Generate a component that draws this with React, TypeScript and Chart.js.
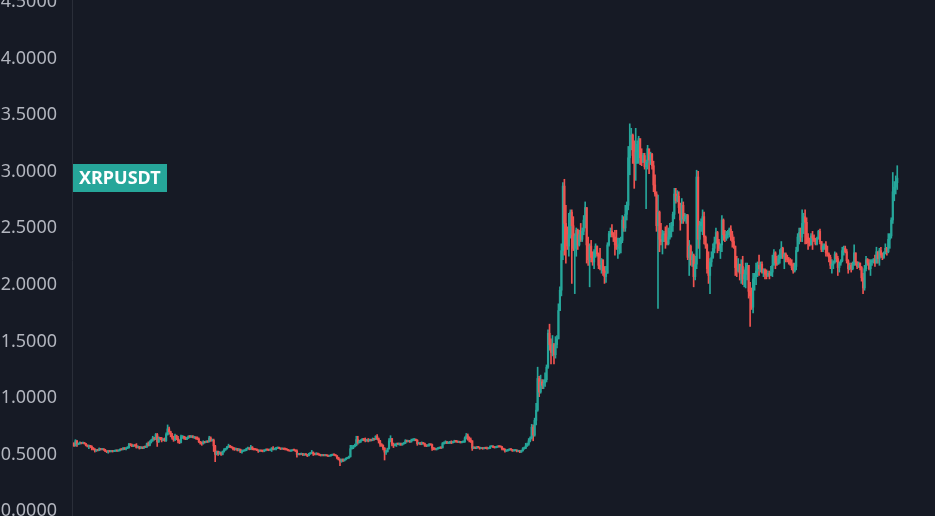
import React, { useEffect, useRef } from 'react';
import { Chart, registerables } from 'chart.js';

Chart.register(...registerables);

// ---- data (daily candles, first = 2024-01-08, last = 2025-07-15) ----
const SYMBOL = 'XRPUSDT';
const FIRST_OPEN = 0.578;

const closes: number[] = [
  // 2024 Jan (from 8th)
  0.555, 0.600, 0.570, 0.575, 0.582, 0.578, 0.583, 0.575, 0.560, 0.552, 0.558, 0.548, 0.535, 0.527, 0.512, 0.518, 0.516, 0.530, 0.523, 0.527, 0.520, 0.507, 0.503, 0.510,
  // Feb
  0.505, 0.510, 0.506, 0.510, 0.514, 0.510, 0.515, 0.525, 0.522, 0.535, 0.528, 0.535, 0.540, 0.570, 0.563, 0.553, 0.560, 0.557, 0.540, 0.548, 0.535, 0.540, 0.537, 0.548, 0.545, 0.575, 0.560, 0.590, 0.605,
  // Mar
  0.625, 0.615, 0.655, 0.590, 0.625, 0.620, 0.605, 0.615, 0.600, 0.655, 0.705, 0.680, 0.655, 0.630, 0.610, 0.645, 0.620, 0.600, 0.585, 0.635, 0.640, 0.625, 0.615, 0.625, 0.640, 0.635, 0.640, 0.630, 0.632, 0.620, 0.615,
  // Apr
  0.590, 0.580, 0.575, 0.590, 0.585, 0.595, 0.590, 0.625, 0.600, 0.605, 0.555, 0.480, 0.505, 0.485, 0.495, 0.480, 0.505, 0.520, 0.530, 0.545, 0.555, 0.548, 0.540, 0.530, 0.525, 0.530, 0.515, 0.525, 0.500, 0.510,
  // May
  0.513, 0.515, 0.530, 0.535, 0.527, 0.545, 0.528, 0.525, 0.522, 0.519, 0.510, 0.513, 0.511, 0.510, 0.515, 0.522, 0.520, 0.518, 0.520, 0.535, 0.525, 0.530, 0.535, 0.540, 0.535, 0.527, 0.530, 0.528, 0.527, 0.522, 0.515,
  // Jun
  0.510, 0.512, 0.520, 0.518, 0.510, 0.480, 0.485, 0.480, 0.487, 0.474, 0.482, 0.478, 0.468, 0.485, 0.490, 0.500, 0.485, 0.480, 0.490, 0.480, 0.476, 0.470, 0.473, 0.470, 0.472, 0.469, 0.465, 0.468, 0.473, 0.478,
  // Jul
  0.475, 0.468, 0.450, 0.435, 0.420, 0.435, 0.425, 0.435, 0.445, 0.450, 0.460, 0.530, 0.540, 0.550, 0.560, 0.610, 0.585, 0.595, 0.605, 0.615, 0.610, 0.600, 0.605, 0.598, 0.608, 0.605, 0.615, 0.613, 0.640, 0.618, 0.600,
  // Aug
  0.570, 0.560, 0.535, 0.500, 0.505, 0.530, 0.600, 0.620, 0.570, 0.560, 0.565, 0.575, 0.570, 0.575, 0.565, 0.574, 0.580, 0.600, 0.594, 0.598, 0.590, 0.605, 0.610, 0.614, 0.605, 0.575, 0.580, 0.570, 0.580, 0.576, 0.560,
  // Sep
  0.555, 0.560, 0.570, 0.565, 0.535, 0.530, 0.525, 0.530, 0.535, 0.540, 0.538, 0.575, 0.580, 0.590, 0.580, 0.585, 0.590, 0.582, 0.590, 0.600, 0.593, 0.588, 0.590, 0.585, 0.590, 0.592, 0.625, 0.645, 0.620, 0.605,
  // Oct
  0.600, 0.535, 0.540, 0.535, 0.545, 0.542, 0.533, 0.535, 0.530, 0.537, 0.535, 0.530, 0.535, 0.548, 0.552, 0.545, 0.540, 0.545, 0.550, 0.548, 0.547, 0.530, 0.525, 0.510, 0.515, 0.518, 0.525, 0.522, 0.512, 0.515, 0.518,
  // Nov
  0.508, 0.510, 0.500, 0.512, 0.530, 0.535, 0.555, 0.570, 0.600, 0.625, 0.720, 0.650, 0.780, 0.870, 1.15, 1.03, 1.12, 1.09, 1.11, 1.14, 1.25, 1.55, 1.45, 1.38, 1.45, 1.36, 1.45, 1.50, 1.75, 1.93,
  // Dec
  2.28, 2.85, 2.52, 2.38, 2.32, 2.42, 2.62, 2.50, 2.30, 2.41, 2.46, 2.33, 2.42, 2.38, 2.45, 2.55, 2.66, 2.33, 2.20, 2.32, 2.22, 2.18, 2.27, 2.32, 2.25, 2.15, 2.12, 2.20, 2.10, 2.05, 2.08,
  // 2025 Jan
  2.33, 2.43, 2.45, 2.42, 2.40, 2.33, 2.30, 2.31, 2.34, 2.37, 2.55, 2.48, 2.60, 2.68, 3.10, 3.20, 3.30, 3.12, 3.05, 3.15, 3.22, 3.27, 3.10, 3.06, 3.12, 3.02, 3.06, 3.18, 3.08, 3.13, 3.03,
  // Feb
  2.86, 2.78, 2.50, 2.62, 2.38, 2.36, 2.42, 2.43, 2.36, 2.34, 2.40, 2.45, 2.50, 2.60, 2.78, 2.72, 2.76, 2.66, 2.55, 2.68, 2.56, 2.58, 2.59, 2.22, 2.32, 2.20, 2.24, 2.05,
  // Mar
  2.16, 2.93, 2.38, 2.50, 2.53, 2.58, 2.40, 2.33, 2.12, 2.06, 2.18, 2.22, 2.30, 2.35, 2.44, 2.35, 2.30, 2.33, 2.55, 2.42, 2.39, 2.42, 2.44, 2.47, 2.42, 2.36, 2.32, 2.13, 2.10, 2.16, 2.08,
  // Apr
  2.14, 2.03, 2.07, 2.13, 2.15, 1.92, 1.88, 1.78, 2.03, 2.05, 2.10, 2.15, 2.12, 2.16, 2.09, 2.11, 2.07, 2.06, 2.08, 2.06, 2.09, 2.15, 2.26, 2.17, 2.16, 2.21, 2.25, 2.30, 2.23, 2.25,
  // May
  2.21, 2.20, 2.18, 2.16, 2.13, 2.10, 2.14, 2.28, 2.40, 2.44, 2.40, 2.52, 2.58, 2.53, 2.40, 2.35, 2.33, 2.41, 2.39, 2.37, 2.34, 2.39, 2.45, 2.36, 2.29, 2.32, 2.33, 2.26, 2.25, 2.22, 2.15,
  // Jun
  2.16, 2.18, 2.25, 2.21, 2.13, 2.17, 2.19, 2.28, 2.30, 2.27, 2.19, 2.12, 2.15, 2.12, 2.16, 2.26, 2.18, 2.14, 2.17, 2.13, 2.04, 1.95, 2.12, 2.20, 2.17, 2.12, 2.18, 2.19, 2.20, 2.17,
  // Jul (to 15th)
  2.27, 2.21, 2.28, 2.24, 2.22, 2.26, 2.30, 2.27, 2.38, 2.41, 2.55, 2.80, 2.84, 2.88, 2.92,
];

const highs: number[] = [
  0.585, 0.610, 0.602, 0.580, 0.590, 0.585, 0.588, 0.585, 0.578, 0.565, 0.562, 0.560, 0.555, 0.540, 0.530, 0.522, 0.522, 0.537, 0.532, 0.532, 0.530, 0.525, 0.510, 0.515,
  0.515, 0.514, 0.512, 0.515, 0.518, 0.518, 0.520, 0.528, 0.530, 0.540, 0.540, 0.540, 0.548, 0.578, 0.575, 0.570, 0.565, 0.565, 0.575, 0.555, 0.550, 0.548, 0.545, 0.552, 0.552, 0.580, 0.590, 0.600, 0.612,
  0.640, 0.630, 0.665, 0.665, 0.635, 0.630, 0.630, 0.620, 0.625, 0.670, 0.740, 0.720, 0.685, 0.665, 0.640, 0.660, 0.650, 0.640, 0.610, 0.650, 0.645, 0.640, 0.635, 0.630, 0.645, 0.645, 0.645, 0.645, 0.640, 0.635, 0.635,
  0.625, 0.595, 0.590, 0.600, 0.595, 0.600, 0.600, 0.640, 0.635, 0.615, 0.615, 0.560, 0.510, 0.510, 0.505, 0.500, 0.510, 0.530, 0.535, 0.550, 0.570, 0.560, 0.552, 0.545, 0.540, 0.535, 0.532, 0.530, 0.527, 0.518,
  0.518, 0.520, 0.535, 0.545, 0.540, 0.560, 0.548, 0.530, 0.530, 0.525, 0.520, 0.518, 0.516, 0.515, 0.520, 0.528, 0.525, 0.524, 0.525, 0.540, 0.548, 0.535, 0.542, 0.545, 0.542, 0.537, 0.535, 0.533, 0.532, 0.530, 0.525,
  0.518, 0.517, 0.522, 0.523, 0.520, 0.520, 0.490, 0.490, 0.492, 0.490, 0.486, 0.485, 0.480, 0.490, 0.495, 0.515, 0.500, 0.488, 0.495, 0.492, 0.483, 0.480, 0.477, 0.476, 0.476, 0.475, 0.472, 0.472, 0.477, 0.482,
  0.483, 0.478, 0.470, 0.455, 0.440, 0.440, 0.440, 0.440, 0.450, 0.455, 0.465, 0.560, 0.560, 0.560, 0.570, 0.640, 0.640, 0.605, 0.610, 0.620, 0.620, 0.625, 0.612, 0.620, 0.615, 0.612, 0.625, 0.620, 0.645, 0.655, 0.625,
  0.605, 0.575, 0.565, 0.540, 0.515, 0.535, 0.620, 0.645, 0.620, 0.580, 0.572, 0.580, 0.580, 0.580, 0.580, 0.580, 0.585, 0.610, 0.607, 0.605, 0.605, 0.615, 0.617, 0.620, 0.615, 0.610, 0.585, 0.585, 0.590, 0.585, 0.580,
  0.565, 0.565, 0.575, 0.572, 0.570, 0.540, 0.535, 0.535, 0.540, 0.545, 0.545, 0.585, 0.590, 0.600, 0.595, 0.590, 0.595, 0.600, 0.595, 0.605, 0.605, 0.600, 0.595, 0.595, 0.595, 0.597, 0.635, 0.665, 0.660, 0.635,
  0.625, 0.600, 0.548, 0.545, 0.550, 0.550, 0.545, 0.540, 0.540, 0.542, 0.542, 0.545, 0.540, 0.555, 0.556, 0.556, 0.550, 0.550, 0.555, 0.553, 0.552, 0.550, 0.535, 0.528, 0.520, 0.522, 0.530, 0.528, 0.525, 0.520, 0.522,
  0.520, 0.515, 0.515, 0.517, 0.540, 0.545, 0.578, 0.580, 0.620, 0.635, 0.745, 0.740, 0.800, 0.930, 1.25, 1.17, 1.18, 1.14, 1.14, 1.20, 1.27, 1.58, 1.63, 1.50, 1.53, 1.46, 1.52, 1.53, 1.81, 1.96,
  2.34, 2.88, 2.91, 2.68, 2.49, 2.61, 2.64, 2.64, 2.58, 2.43, 2.48, 2.47, 2.46, 2.52, 2.48, 2.59, 2.71, 2.66, 2.40, 2.34, 2.37, 2.27, 2.29, 2.34, 2.32, 2.26, 2.30, 2.21, 2.18, 2.14, 2.14,
  2.35, 2.45, 2.48, 2.51, 2.44, 2.46, 2.46, 2.39, 2.39, 2.40, 2.59, 2.58, 2.68, 2.71, 3.20, 3.40, 3.36, 3.31, 3.25, 3.36, 3.25, 3.29, 3.20, 3.18, 3.14, 3.14, 3.08, 3.21, 3.14, 3.15, 3.14,
  3.07, 2.95, 2.80, 2.77, 2.63, 2.52, 2.46, 2.45, 2.49, 2.50, 2.48, 2.52, 2.53, 2.62, 2.83, 2.83, 2.81, 2.80, 2.70, 2.74, 2.71, 2.61, 2.60, 2.60, 2.37, 2.33, 2.27, 2.25,
  2.23, 2.99, 2.98, 2.54, 2.56, 2.64, 2.62, 2.41, 2.34, 2.27, 2.21, 2.27, 2.34, 2.40, 2.48, 2.45, 2.38, 2.34, 2.59, 2.56, 2.46, 2.45, 2.46, 2.48, 2.50, 2.45, 2.40, 2.32, 2.23, 2.21, 2.16,
  2.20, 2.23, 2.11, 2.17, 2.17, 2.15, 2.00, 1.95, 2.08, 2.08, 2.17, 2.18, 2.24, 2.18, 2.18, 2.12, 2.12, 2.11, 2.10, 2.10, 2.14, 2.24, 2.29, 2.27, 2.23, 2.24, 2.29, 2.36, 2.31, 2.26,
  2.26, 2.24, 2.22, 2.21, 2.20, 2.17, 2.17, 2.31, 2.43, 2.48, 2.48, 2.64, 2.61, 2.64, 2.57, 2.43, 2.39, 2.43, 2.45, 2.42, 2.39, 2.40, 2.46, 2.47, 2.36, 2.34, 2.34, 2.36, 2.32, 2.26, 2.24,
  2.20, 2.19, 2.27, 2.26, 2.23, 2.18, 2.20, 2.31, 2.32, 2.32, 2.29, 2.20, 2.17, 2.17, 2.18, 2.33, 2.26, 2.18, 2.18, 2.17, 2.14, 2.08, 2.15, 2.23, 2.21, 2.20, 2.20, 2.20, 2.21, 2.24,
  2.31, 2.27, 2.30, 2.31, 2.26, 2.27, 2.34, 2.31, 2.43, 2.43, 2.57, 2.97, 2.89, 2.94, 3.03,
];

const lows: number[] = [
  0.550, 0.553, 0.550, 0.565, 0.570, 0.572, 0.575, 0.570, 0.555, 0.545, 0.530, 0.540, 0.520, 0.520, 0.500, 0.505, 0.510, 0.512, 0.518, 0.520, 0.515, 0.505, 0.495, 0.490,
  0.500, 0.502, 0.500, 0.503, 0.505, 0.505, 0.507, 0.510, 0.517, 0.520, 0.522, 0.520, 0.530, 0.535, 0.555, 0.548, 0.548, 0.550, 0.535, 0.538, 0.527, 0.530, 0.530, 0.530, 0.540, 0.540, 0.553, 0.555, 0.580,
  0.595, 0.605, 0.610, 0.550, 0.585, 0.610, 0.590, 0.600, 0.595, 0.595, 0.650, 0.660, 0.635, 0.615, 0.595, 0.600, 0.610, 0.580, 0.575, 0.580, 0.620, 0.615, 0.610, 0.610, 0.620, 0.628, 0.628, 0.625, 0.620, 0.615, 0.610,
  0.585, 0.570, 0.560, 0.570, 0.580, 0.585, 0.585, 0.590, 0.595, 0.598, 0.505, 0.415, 0.475, 0.470, 0.480, 0.470, 0.475, 0.500, 0.515, 0.525, 0.540, 0.540, 0.535, 0.520, 0.515, 0.520, 0.510, 0.510, 0.495, 0.490,
  0.505, 0.508, 0.512, 0.525, 0.520, 0.522, 0.520, 0.518, 0.518, 0.513, 0.497, 0.505, 0.505, 0.502, 0.503, 0.510, 0.515, 0.512, 0.515, 0.505, 0.520, 0.520, 0.520, 0.530, 0.530, 0.522, 0.525, 0.522, 0.520, 0.517, 0.510,
  0.508, 0.507, 0.510, 0.512, 0.505, 0.455, 0.475, 0.475, 0.478, 0.470, 0.470, 0.472, 0.460, 0.466, 0.480, 0.485, 0.470, 0.475, 0.475, 0.475, 0.470, 0.465, 0.466, 0.466, 0.467, 0.465, 0.460, 0.462, 0.465, 0.470,
  0.470, 0.465, 0.440, 0.430, 0.380, 0.410, 0.415, 0.420, 0.430, 0.440, 0.445, 0.455, 0.525, 0.530, 0.545, 0.555, 0.570, 0.580, 0.585, 0.600, 0.600, 0.590, 0.595, 0.590, 0.598, 0.598, 0.600, 0.605, 0.610, 0.610, 0.580,
  0.550, 0.550, 0.520, 0.430, 0.480, 0.500, 0.525, 0.590, 0.555, 0.540, 0.555, 0.550, 0.565, 0.560, 0.560, 0.560, 0.570, 0.575, 0.588, 0.590, 0.585, 0.588, 0.600, 0.600, 0.600, 0.560, 0.570, 0.565, 0.565, 0.570, 0.550,
  0.548, 0.550, 0.552, 0.560, 0.515, 0.520, 0.520, 0.518, 0.525, 0.530, 0.530, 0.535, 0.570, 0.575, 0.575, 0.575, 0.575, 0.575, 0.580, 0.585, 0.588, 0.585, 0.584, 0.580, 0.582, 0.585, 0.585, 0.615, 0.605, 0.590,
  0.585, 0.515, 0.530, 0.530, 0.530, 0.537, 0.525, 0.530, 0.525, 0.528, 0.530, 0.525, 0.528, 0.530, 0.545, 0.540, 0.535, 0.538, 0.540, 0.544, 0.543, 0.520, 0.518, 0.500, 0.505, 0.508, 0.515, 0.517, 0.506, 0.508, 0.510,
  0.502, 0.503, 0.495, 0.498, 0.508, 0.525, 0.530, 0.550, 0.560, 0.590, 0.615, 0.600, 0.640, 0.740, 0.860, 0.990, 1.02, 1.06, 1.06, 1.08, 1.12, 1.24, 1.40, 1.28, 1.35, 1.28, 1.33, 1.42, 1.50, 1.75,
  1.88, 2.20, 2.24, 2.17, 2.29, 2.23, 2.39, 1.99, 2.28, 1.90, 2.23, 2.29, 2.32, 2.36, 2.36, 2.42, 2.48, 2.17, 2.15, 1.96, 2.18, 2.15, 2.12, 2.22, 2.23, 2.12, 2.11, 2.08, 2.06, 1.99, 2.00,
  2.08, 2.32, 2.40, 2.40, 2.36, 2.24, 2.29, 2.21, 2.25, 2.26, 2.35, 2.45, 2.45, 2.55, 2.64, 2.95, 3.17, 3.05, 2.83, 2.90, 3.05, 3.05, 3.04, 3.03, 3.06, 3.00, 2.65, 3.00, 2.96, 3.04, 3.00,
  2.80, 2.76, 2.45, 1.77, 2.27, 2.33, 2.25, 2.36, 2.30, 2.33, 2.33, 2.38, 2.40, 2.45, 2.56, 2.70, 2.71, 2.61, 2.46, 2.52, 2.52, 2.54, 2.52, 2.20, 2.06, 2.15, 2.14, 1.96,
  2.02, 2.12, 2.30, 2.21, 2.45, 2.42, 2.34, 2.30, 2.08, 1.99, 1.90, 2.14, 2.21, 2.26, 2.34, 2.26, 2.28, 2.21, 2.27, 2.37, 2.36, 2.37, 2.39, 2.40, 2.37, 2.31, 2.30, 2.06, 2.05, 2.09, 2.02,
  1.99, 1.98, 1.96, 1.95, 2.02, 1.86, 1.61, 1.76, 1.73, 1.93, 1.98, 2.05, 2.06, 2.09, 2.08, 2.05, 2.03, 2.03, 2.05, 2.03, 2.06, 2.05, 2.18, 2.12, 2.15, 2.16, 2.17, 2.21, 2.21, 2.12,
  2.18, 2.18, 2.16, 2.15, 2.11, 2.08, 2.09, 2.11, 2.27, 2.34, 2.36, 2.36, 2.43, 2.34, 2.34, 2.29, 2.32, 2.33, 2.29, 2.36, 2.33, 2.33, 2.38, 2.34, 2.27, 2.27, 2.29, 2.23, 2.23, 2.18, 2.12,
  2.08, 2.12, 2.17, 2.18, 2.06, 2.09, 2.15, 2.18, 2.24, 2.26, 2.17, 2.08, 2.11, 2.09, 2.11, 2.15, 2.15, 2.12, 2.13, 2.11, 2.01, 1.90, 1.93, 2.10, 2.15, 2.11, 2.06, 2.15, 2.17, 2.14,
  2.17, 2.17, 2.15, 2.22, 2.20, 2.21, 2.25, 2.24, 2.26, 2.30, 2.39, 2.52, 2.72, 2.78, 2.82,
];

const yTickValues = [0, 0.5, 1, 1.5, 2, 2.5, 3, 3.5, 4, 4.5];

// ---- styles ----
const BG = '#161a25';
const UP = '#26a69a';
const DOWN = '#ef5350';
const AXIS_TEXT = '#b2b5be';
const AXIS_LINE = '#2a2e39';
const FONT = '"Noto Sans", "DejaVu Sans", sans-serif';

const VIEW_W = 935;
const VIEW_H = 516;
const CANVAS_TOP = 20;
const CANVAS_H = 560;
const AXIS_W = 72;
// price -> viewport pixel: y = 508.7 - 113.2 * v
const PX_PER_UNIT = 113.2;
const ZERO_Y = 508.7;
const Y_MAX = (ZERO_Y + CANVAS_TOP) / PX_PER_UNIT;
const Y_MIN = (ZERO_Y + CANVAS_TOP - CANVAS_H) / PX_PER_UNIT;
const BAR_SPACING = 1.486;
const FIRST_X = 74;
const X_MIN = -(FIRST_X - AXIS_W) / BAR_SPACING;
const X_MAX = X_MIN + (VIEW_W - AXIS_W) / BAR_SPACING;

const symbolLabel = {
  id: 'symbolLabel',
  afterDatasetsDraw(chart: any) {
    const { ctx, chartArea } = chart;
    const last = closes[closes.length - 1];
    const y = chart.scales.y.getPixelForValue(last);
    ctx.save();
    ctx.font = `bold 18px ${FONT}`;
    const tw = ctx.measureText(SYMBOL).width;
    const h = 28;
    const x0 = chartArea.left + 1;
    const top = Math.round(y - h / 2);
    ctx.fillStyle = UP;
    ctx.fillRect(x0, top, Math.round(tw + 12), h);
    ctx.fillStyle = '#ffffff';
    ctx.textBaseline = 'middle';
    ctx.textAlign = 'left';
    ctx.fillText(SYMBOL, x0 + 6, top + h / 2 + 1);
    ctx.restore();
  },
};

export default function App() {
  const ref = useRef<HTMLCanvasElement | null>(null);

  useEffect(() => {
    document.body.style.margin = '0';
    document.body.style.background = BG;
    const canvas = ref.current;
    if (!canvas) return;
    Chart.defaults.font.family = FONT;

    const opens = closes.map((c, i) => (i === 0 ? FIRST_OPEN : closes[i - 1]));
    const colors = closes.map((c, i) => (c >= opens[i] ? UP : DOWN));

    const chart = new Chart(canvas, {
      type: 'bar',
      data: {
        datasets: [
          {
            label: 'body',
            data: closes.map((c, i) => ({ x: i, y: [opens[i], c] })) as any,
            backgroundColor: colors,
            barThickness: 1.5,
            minBarLength: 1,
            grouped: false,
            order: 0,
          } as any,
          {
            label: 'wick',
            data: closes.map((_, i) => ({ x: i, y: [lows[i], highs[i]] })) as any,
            backgroundColor: colors,
            barThickness: 1,
            grouped: false,
            order: 1,
          } as any,
        ],
      },
      options: {
        animation: false,
        responsive: false,
        maintainAspectRatio: false,
        events: [],
        layout: { padding: 0 },
        plugins: { legend: { display: false }, tooltip: { enabled: false } },
        scales: {
          x: { type: 'linear', display: false, min: X_MIN, max: X_MAX, offset: false },
          y: {
            position: 'left',
            min: Y_MIN,
            max: Y_MAX,
            grid: { display: false, drawTicks: false },
            border: { display: true, color: AXIS_LINE, width: 1 },
            afterBuildTicks: (s: any) => {
              s.ticks = yTickValues.map((v) => ({ value: v }));
            },
            afterFit: (s: any) => {
              s.width = AXIS_W;
              s.paddingTop = 0;
              s.paddingBottom = 0;
            },
            ticks: {
              color: AXIS_TEXT,
              font: { size: 18, family: FONT },
              padding: 15,
              labelOffset: 2.5,
              autoSkip: false,
              callback: (v: any) => Number(v).toFixed(4),
            },
          },
        },
      } as any,
      plugins: [symbolLabel],
    });
    return () => chart.destroy();
  }, []);

  return (
    <div
      style={{
        position: 'fixed',
        left: 0,
        top: 0,
        width: VIEW_W,
        height: VIEW_H,
        overflow: 'hidden',
        background: BG,
      }}
    >
      <canvas
        ref={ref}
        width={VIEW_W}
        height={CANVAS_H}
        style={{ position: 'absolute', left: 0, top: -CANVAS_TOP, width: VIEW_W, height: CANVAS_H, display: 'block' }}
      />
    </div>
  );
}
